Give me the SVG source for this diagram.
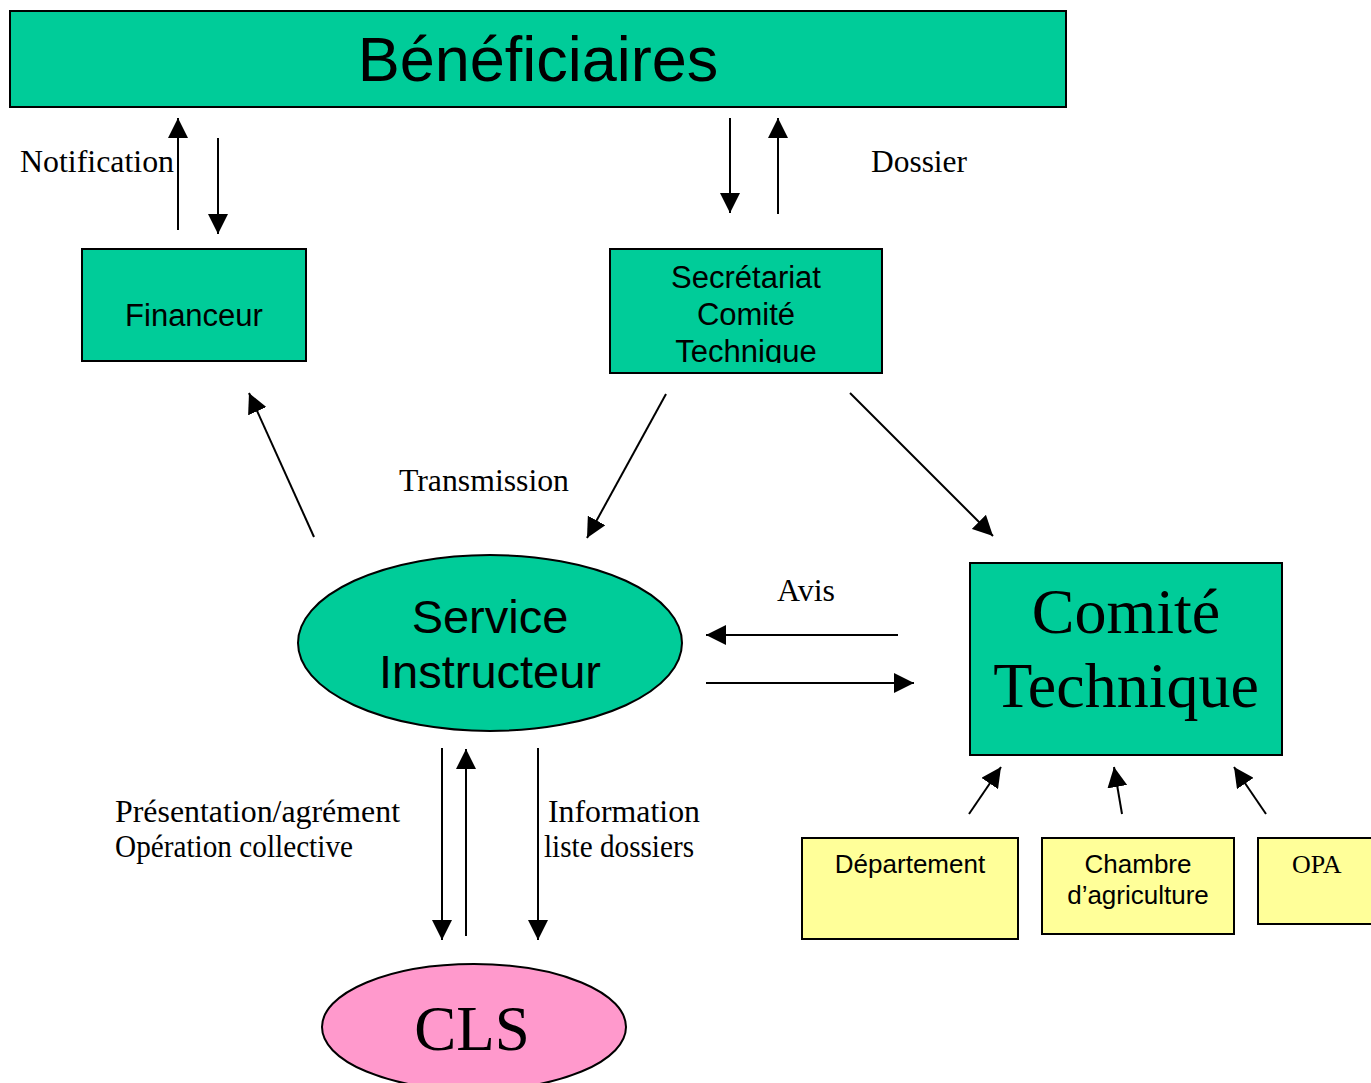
<svg xmlns="http://www.w3.org/2000/svg" width="1371" height="1083" viewBox="0 0 1371 1083">
<style>
.box{stroke:#000;stroke-width:2}
.teal{fill:#00CC99}
.pink{fill:#FF99CC}
.yel{fill:#FFFF99}
.sans{font-family:"Liberation Sans",Arial,sans-serif;fill:#000}
.serif{font-family:"Liberation Serif","Times New Roman",serif;fill:#000}
.lbl{font-size:31px}
.conn line{stroke:#000;stroke-width:2;marker-end:url(#ah)}
</style>
<defs>
<marker id="ah" markerUnits="userSpaceOnUse" markerWidth="20" markerHeight="20" refX="20" refY="10" orient="auto" viewBox="0 0 20 20">
<path d="M0,0 L20,10 L0,20 z" fill="#000"/>
</marker>
<clipPath id="secclip"><rect x="610" y="249" width="272" height="114"/></clipPath>
</defs>
<rect width="1371" height="1083" fill="#fff"/>

<g id="beneficiaires">
<rect class="box teal" x="10" y="11" width="1056" height="96"/>
<text class="sans" x="538" y="81" font-size="63" text-anchor="middle">Bénéficiaires</text>
</g>

<g id="financeur">
<rect class="box teal" x="82" y="249" width="224" height="112"/>
<text class="sans" x="194" y="326" font-size="31" text-anchor="middle">Financeur</text>
</g>

<g id="secretariat">
<rect class="box teal" x="610" y="249" width="272" height="124"/>
<g clip-path="url(#secclip)">
<text class="sans" x="746" y="288" font-size="31" text-anchor="middle">Secrétariat</text>
<text class="sans" x="746" y="325" font-size="31" text-anchor="middle">Comité</text>
<text class="sans" x="746" y="362" font-size="31" text-anchor="middle">Technique</text>
</g>
</g>

<g id="service-instructeur">
<ellipse class="box teal" cx="490" cy="643" rx="192" ry="88"/>
<text class="sans" x="490" y="633" font-size="47" text-anchor="middle">Service</text>
<text class="sans" x="490" y="688" font-size="47" text-anchor="middle">Instructeur</text>
</g>

<g id="comite-technique">
<rect class="box teal" x="970" y="563" width="312" height="192"/>
<text class="serif" x="1126" y="633" font-size="64" text-anchor="middle">Comité</text>
<text class="serif" x="1126" y="707" font-size="64" text-anchor="middle">Technique</text>
</g>

<g id="departement">
<rect class="box yel" x="802" y="838" width="216" height="101"/>
<text class="sans" x="910" y="873" font-size="26" text-anchor="middle">Département</text>
</g>

<g id="chambre">
<rect class="box yel" x="1042" y="838" width="192" height="96"/>
<text class="sans" x="1138" y="873" font-size="26" text-anchor="middle">Chambre</text>
<text class="sans" x="1138" y="904" font-size="26" text-anchor="middle">d’agriculture</text>
</g>

<g id="opa">
<rect class="box yel" x="1258" y="838" width="120" height="86"/>
<text class="serif" x="1292" y="873" font-size="26">OPA</text>
</g>

<g id="cls">
<ellipse class="box pink" cx="474" cy="1027" rx="152" ry="63"/>
<text class="serif" x="472" y="1050" font-size="63" text-anchor="middle">CLS</text>
</g>

<g id="connectors" class="conn">
<line x1="178" y1="230" x2="178" y2="118"/>
<line x1="218" y1="138" x2="218" y2="234"/>
<line x1="730" y1="118" x2="730" y2="213"/>
<line x1="778" y1="214" x2="778" y2="118"/>
<line x1="314" y1="537" x2="249" y2="393"/>
<line x1="666" y1="394" x2="587" y2="538"/>
<line x1="850" y1="393" x2="993" y2="536"/>
<line x1="898" y1="635" x2="706" y2="635"/>
<line x1="706" y1="683" x2="914" y2="683"/>
<line x1="969" y1="814" x2="1001" y2="767"/>
<line x1="1122" y1="814" x2="1114" y2="767"/>
<line x1="1266" y1="814" x2="1234" y2="767"/>
<line x1="442" y1="748" x2="442" y2="940"/>
<line x1="466" y1="936" x2="466" y2="749"/>
<line x1="538" y1="748" x2="538" y2="940"/>
</g>

<g id="labels">
<text class="serif lbl" x="20" y="172" textLength="154" lengthAdjust="spacingAndGlyphs">Notification</text>
<text class="serif lbl" x="871" y="172" textLength="96" lengthAdjust="spacingAndGlyphs">Dossier</text>
<text class="serif lbl" x="399" y="491" textLength="170" lengthAdjust="spacingAndGlyphs">Transmission</text>
<text class="serif lbl" x="777" y="601" textLength="58" lengthAdjust="spacingAndGlyphs">Avis</text>
<text class="serif lbl" x="115" y="822" textLength="285" lengthAdjust="spacingAndGlyphs">Présentation/agrément</text>
<text class="serif lbl" x="115" y="857" textLength="238" lengthAdjust="spacingAndGlyphs">Opération collective</text>
<text class="serif lbl" x="548" y="822" textLength="152" lengthAdjust="spacingAndGlyphs">Information</text>
<text class="serif lbl" x="544" y="857" textLength="150" lengthAdjust="spacingAndGlyphs">liste dossiers</text>
</g>
</svg>
